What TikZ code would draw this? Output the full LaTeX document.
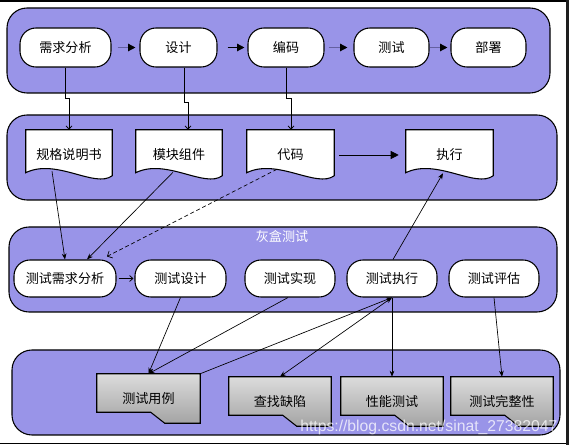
\documentclass[tikz,border=0pt]{standalone}
\usepackage{fontspec}
\newfontfamily\cjkf{Noto Sans CJK SC}
\newfontfamily\wmf{Liberation Sans}
\usetikzlibrary{arrows.meta,calc}
\newcommand\pxu{0.75pt}
\definecolor{bandc}{RGB}{153,148,232}
\definecolor{slate}{RGB}{100,96,160}
\definecolor{gtop}{RGB}{220,220,220}
\definecolor{gbot}{RGB}{164,164,164}
\definecolor{edgec}{RGB}{30,30,30}
\pgfdeclarelayer{bg}
\pgfsetlayers{bg,main}
\newcommand\drawdoc[1]{\draw[docline] (#1.north west) -- (#1.north east) -- ($(#1.north east)+(0,46)$)
  .. controls ($(#1.north west)!0.8!(#1.north east)+(0,59)$) and ($(#1.north west)!0.35!(#1.north east)+(0,28)$) ..
  ($(#1.north west)+(0,43)$) -- cycle;}
\newcommand\drawtab[1]{\draw[tabline] (#1.north west) -- (#1.north east) -- (#1.south east) -- ($(#1.south west)+(68,0)$) -- ($(#1.south west)+(54,-11)$) -- ($(#1.south west)+(0,-11)$) -- cycle;}
\begin{document}
\begin{tikzpicture}[x=0.75pt,y=-0.75pt,
  band/.style={fill=bandc, draw=black, line width=0.8pt, rounded corners=15pt},
  txt/.style={font=\cjkf\fontsize{9.8}{11}\selectfont},
  stad/.style={txt, draw=black, line width=0.8pt, fill=white, rounded corners=12pt, inner sep=0pt},
  docbox/.style={txt, inner sep=0pt, minimum height=50*\pxu},
  docline/.style={draw=black, line width=0.8pt, fill=white},
  tabbox/.style={txt, inner sep=0pt, minimum height=49*\pxu},
  tabline/.style={draw=black, line width=0.8pt, top color=gtop, bottom color=gbot},
  toparr/.style={line width=1pt, -{Triangle[length=5.5pt,width=5.5pt,color=black]}},
  vconn/.style={black, line width=0.6pt, -{Straight Barb[length=2.5pt,width=4.5pt]}},
  lconn/.style={black, line width=0.5pt, -{Stealth[length=4.5pt,width=3.5pt]}}
]
\useasboundingbox (0,0) rectangle (569,445);
\begin{pgfonlayer}{bg}
\fill[white] (0,0) rectangle (569,445);
\fill[black] (0,0) rectangle (569,2);
\fill[black] (0,442.7) rectangle (569,444.3);
\fill[edgec] (565.5,0) rectangle (569,445);
\draw[band] (7,8) rectangle (550,93);
\draw[band] (7,115) rectangle (557,200);
\draw[band] (9,227) rectangle (557,312);
\draw[band] (12,350) rectangle (560,435);
\end{pgfonlayer}

% top row
\node[stad, minimum width=91*\pxu, minimum height=39*\pxu] (n1) at (65.5,47.5) {需求分析};
\node[stad, minimum width=77*\pxu, minimum height=39*\pxu] (n2) at (178.5,47.5) {设计};
\node[stad, minimum width=76*\pxu, minimum height=39*\pxu] (n3) at (286,47.5) {编码};
\node[stad, minimum width=75*\pxu, minimum height=39*\pxu] (n4) at (391.5,47.5) {测试};
\node[stad, minimum width=75*\pxu, minimum height=39*\pxu] (n5) at (488.5,47.5) {部署};

\draw[toparr, slate] ($(n1.east)+(6,0)$) -- ($(n2.west)+(-4,0)$);
\draw[toparr, black] ($(n2.east)+(10,0)$) -- ($(n3.west)+(-3,0)$);
\draw[toparr, slate] ($(n3.east)+(4,0)$) -- ($(n4.west)+(-6,0)$);
\draw[toparr, slate] (n4.east) -- ($(n5.west)+(-3,0)$);

% documents
\node[docbox, minimum width=86*\pxu] (d1) at (69,155) {规格说明书};
\node[docbox, minimum width=86*\pxu] (d2) at (179,155) {模块组件};
\node[docbox, minimum width=87*\pxu] (d3) at (290.5,155) {代码};
\node[docbox, minimum width=87*\pxu] (d4) at (449.5,155) {执行};
\begin{pgfonlayer}{bg}
\drawdoc{d1}\drawdoc{d2}\drawdoc{d3}\drawdoc{d4}
\end{pgfonlayer}

\draw[vconn] (n1.south) -- ++(0,31) -| (d1.north);
\draw[vconn] ($(n2.south)+(5.5,0)$) -- ++(0,35) -| ($(d2.north)+(9,0)$);
\draw[vconn] (n3.south) -- ++(0,31) -| ($(d3.north)+(0.5,0)$);
\draw[black, line width=0.6pt, -{Triangle[length=6pt,width=6pt]}] ($(d3.east)+(5,0)$) -- ($(d4.west)+(-7,0)$);

% grey box test row
\node[txt, text=white] (lbl) at (282,236) {灰盒测试};
\node[stad, minimum width=102*\pxu, minimum height=37*\pxu] (m1) at (65,278.5) {测试需求分析};
\node[stad, minimum width=91*\pxu, minimum height=37*\pxu] (m2) at (180.5,278.5) {测试设计};
\node[stad, minimum width=90*\pxu, minimum height=37*\pxu] (m3) at (290,278.5) {测试实现};
\node[stad, minimum width=90*\pxu, minimum height=37*\pxu] (m4) at (392,278.5) {测试执行};
\node[stad, minimum width=90*\pxu, minimum height=37*\pxu] (m5) at (494,278.5) {测试评估};

\draw[vconn] ($(m1.east)+(2,0)$) -- ($(m2.west)+(-1,0)$);
\draw[lconn] ($(d1.south)+(-17,-9)$) -- (m1.north);
\draw[lconn] ($(d2.south)+(-6,-8)$) -- ($(m1.north)+(22,0)$);
\draw[black, line width=0.5pt, dash pattern=on 3pt off 2pt, -{Straight Barb[length=3pt,width=6pt]}] ($(d3.south)+(-13.5,-11)$) -- ($(m1.north)+(42,-3)$);
\draw[lconn] ($(m4.north)+(1,0)$) -- ($(d4.south)+(-6.5,-7)$);

% bottom row
\node[tabbox, minimum width=103*\pxu] (g1) at (148.5,398.5) {测试用例};
\node[tabbox, minimum width=102*\pxu] (g2) at (280,401.5) {查找缺陷};
\node[tabbox, minimum width=102*\pxu] (g3) at (392,401.5) {性能测试};
\node[tabbox, minimum width=102*\pxu] (g4) at (502,401.5) {测试完整性};
\begin{pgfonlayer}{bg}
\drawtab{g1}\drawtab{g2}\drawtab{g3}\drawtab{g4}
\end{pgfonlayer}

\draw[lconn] (m2.south) -- (g1.north);
\draw[lconn] ($(m3.south)+(-2,0)$) -- (g1.north);
\draw[lconn] (g1.north east) -- (m4.south);
\draw[lconn, {Stealth[length=4.5pt,width=3.5pt]}-{Stealth[length=4.5pt,width=3.5pt]}] (g2.north) -- (m4.south);
\draw[lconn] (m4.south) -- (g3.north);
\draw[lconn] (m5.south) -- (g4.north);

\node[anchor=base west, inner sep=0pt, text=white, opacity=0.75, font=\wmf\fontsize{11.8}{13}\selectfont] (wm) at (300,432) {https://blog.csdn.net/sinat\_27382047};
\end{tikzpicture}
\end{document}
